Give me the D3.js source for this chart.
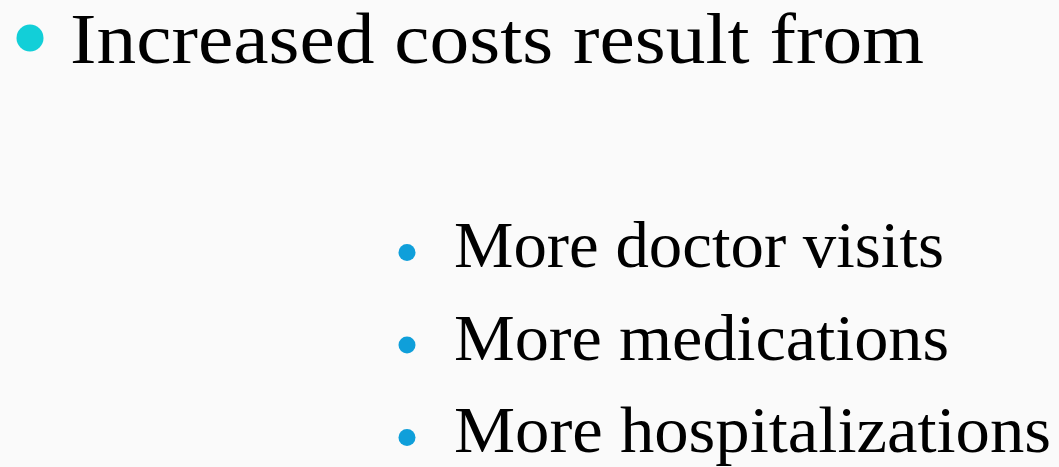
<!DOCTYPE html>
<html><head><meta charset="utf-8">
<script src="https://cdn.jsdelivr.net/npm/d3@7"></script>
<style>html,body{margin:0;padding:0;background:#fafafa;}svg{display:block;}</style>
</head><body>
<svg id="c" width="1059" height="467"></svg>
<script>
const heading = "Increased costs result from";
const subItems = ["More doctor visits", "More medications", "More hospitalizations"];

const W = 1059, H = 467;
const svg = d3.select("#c");
svg.append("rect").attr("width", W).attr("height", H).attr("fill", "#fafafa");

const font = "'Liberation Serif', 'Times New Roman', serif";

// heading
svg.append("circle").attr("cx", 30).attr("cy", 38).attr("r", 13.5).attr("fill", "#12cfd8");
svg.append("text").attr("x", 70).attr("y", 63)
  .attr("font-family", font).attr("font-size", 72).attr("fill", "#000").text(heading)
  .attr("textLength", 854).attr("lengthAdjust", "spacingAndGlyphs");

// sub items
const y = d3.scalePoint().domain(subItems).range([267, 452]);
const widths = {"More doctor visits": 490, "More medications": 495, "More hospitalizations": 597};
const g = svg.append("g");
g.selectAll("circle").data(subItems).join("circle")
  .attr("cx", 407).attr("cy", d => y(d) - 14.5).attr("r", 8.5).attr("fill", "#0f9fda");
g.selectAll("text").data(subItems).join("text")
  .attr("x", 454).attr("y", d => y(d))
  .attr("font-family", font).attr("font-size", 66).attr("fill", "#000")
  .text(d => d)
  .attr("textLength", d => widths[d]).attr("lengthAdjust", "spacingAndGlyphs");
</script>
</body></html>
